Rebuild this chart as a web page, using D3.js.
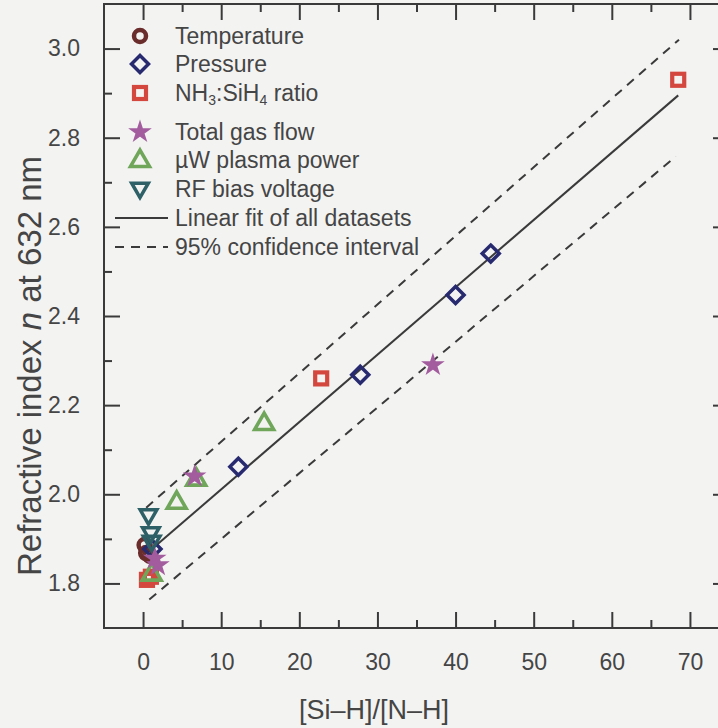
<!DOCTYPE html>
<html>
<head>
<meta charset="utf-8">
<script src="https://cdn.jsdelivr.net/npm/d3@7"></script>
<style>
  html, body { margin: 0; padding: 0; background: #f3f3f2; }
  svg { display: block; font-family: "Liberation Sans", Arial, Helvetica, sans-serif; }
</style>
</head>
<body>
<svg id="chart" width="718" height="728"></svg>
<script>
// Measured datasets: x = [Si–H]/[N–H] bond ratio, y = refractive index at 632 nm
const temperatureX = [0.2, 0.4, 0.9];
const temperatureY = [1.886, 1.868, 1.862];
const pressureX = [1.2, 12.2, 27.8, 40.0, 44.5];
const pressureY = [1.877, 2.062, 2.268, 2.447, 2.540];
const nh3X = [0.5, 1.0, 22.8, 68.5];
const nh3Y = [1.808, 1.815, 2.260, 2.930];
const uwX = [1.1, 4.3, 6.8, 15.5];
const uwY = [1.822, 1.983, 2.035, 2.160];
const flowX = [1.5, 1.9, 6.6, 37.1];
const flowY = [1.856, 1.841, 2.040, 2.290];
const rfX = [0.7, 1.0, 1.1];
const rfY = [1.952, 1.912, 1.893];

// Fit line and 95% band end points
const fitX = [0.8, 68.5];
const fitY = [1.872, 2.895];
const upperX = [0.4, 68.6];
const upperY = [1.970, 3.020];
const lowerX = [0.8, 68.2];
const lowerY = [1.764, 2.758];

// Axis ticks
const xTicks = [0, 10, 20, 30, 40, 50, 60, 70];
const xMinor = [5, 15, 25, 35, 45, 55, 65];
const yTicks = [1.8, 2.0, 2.2, 2.4, 2.6, 2.8, 3.0];
const yMinor = [1.9, 2.1, 2.3, 2.5, 2.7, 2.9];

const svg = d3.select("#chart");
const plotLeft = 104, plotRight = 729, plotTop = 4, plotBottom = 628;
const x = d3.scaleLinear().domain([-5, 75]).range([plotLeft, plotRight]);
const y = d3.scaleLinear().domain([1.7, 3.1]).range([plotBottom, plotTop]);

const ink = "#3a3a3a";
const textCol = "#454545";

// Axes with inward ticks
function styleAxis(g) {
  g.select(".domain").remove();
  g.selectAll(".tick line").attr("stroke", ink).attr("stroke-width", 2);
  g.selectAll(".tick text").attr("fill", textCol).style("font-size", "23px");
}
svg.append("g").attr("transform", `translate(0,${plotBottom})`)
  .call(d3.axisBottom(x).tickValues(xTicks).tickSize(-16).tickPadding(26).tickFormat(d3.format("d")))
  .call(styleAxis);
svg.append("g").attr("transform", `translate(0,${plotBottom})`)
  .call(d3.axisBottom(x).tickValues(xMinor).tickSize(-8).tickFormat(""))
  .call(styleAxis);
svg.append("g").attr("transform", `translate(0,${plotTop})`)
  .call(d3.axisTop(x).tickValues(xTicks).tickSize(-16).tickFormat(""))
  .call(styleAxis);
svg.append("g").attr("transform", `translate(0,${plotTop})`)
  .call(d3.axisTop(x).tickValues(xMinor).tickSize(-8).tickFormat(""))
  .call(styleAxis);
svg.append("g").attr("transform", `translate(${plotLeft},0)`)
  .call(d3.axisLeft(y).tickValues(yTicks).tickSize(-16).tickPadding(24).tickFormat(d3.format(".1f")))
  .call(styleAxis);
svg.append("g").attr("transform", `translate(${plotLeft},0)`)
  .call(d3.axisLeft(y).tickValues(yMinor).tickSize(-8).tickFormat(""))
  .call(styleAxis);
svg.append("g").attr("transform", `translate(${plotRight},0)`)
  .call(d3.axisRight(y).tickValues(yTicks).tickSize(-16).tickFormat(""))
  .call(styleAxis);
svg.append("g").attr("transform", `translate(${plotRight},0)`)
  .call(d3.axisRight(y).tickValues(yMinor).tickSize(-8).tickFormat(""))
  .call(styleAxis);

svg.append("rect")
  .attr("x", plotLeft).attr("y", plotTop).attr("width", plotRight - plotLeft).attr("height", plotBottom - plotTop)
  .attr("fill", "none").attr("stroke", ink).attr("stroke-width", 2);

// Axis titles
svg.append("text")
  .attr("x", 374).attr("y", 710)
  .attr("text-anchor", "middle").attr("dominant-baseline", "central")
  .attr("fill", textCol).style("font-size", "27px")
  .text("[Si–H]/[N–H]");

const yTitle = svg.append("text")
  .attr("transform", "translate(29,366) rotate(-90)")
  .attr("text-anchor", "middle").attr("dominant-baseline", "central")
  .attr("fill", textCol).style("font-size", "33px");
yTitle.append("tspan").text("Refractive index ");
yTitle.append("tspan").style("font-style", "italic").text("n");
yTitle.append("tspan").text(" at 632 nm");

// Fit line and confidence band
const line = d3.line().x(d => x(d[0])).y(d => y(d[1]));
const pairs = (xs, ys) => xs.map((v, i) => [v, ys[i]]);
svg.append("path").datum(pairs(upperX, upperY)).attr("d", line)
  .attr("fill", "none").attr("stroke", ink).attr("stroke-width", 2).attr("stroke-dasharray", "9,7");
svg.append("path").datum(pairs(lowerX, lowerY)).attr("d", line)
  .attr("fill", "none").attr("stroke", ink).attr("stroke-width", 2).attr("stroke-dasharray", "9,7");
svg.append("path").datum(pairs(fitX, fitY)).attr("d", line)
  .attr("fill", "none").attr("stroke", ink).attr("stroke-width", 2);

// Marker shapes
const diamondPath = (r) => `M0,${-r}L${r},0L0,${r}L${-r},0Z`;
const markers = {
  temperature: { color: "#6b2c2c", draw: g => g.append("circle").attr("r", 6).attr("fill", "none").attr("stroke-width", 4.5) },
  pressure: { color: "#282a70", draw: g => g.append("path").attr("d", diamondPath(8.5)).attr("fill", "none").attr("stroke-width", 3.5) },
  nh3: { color: "#d4473e", draw: g => g.append("rect").attr("x", -6).attr("y", -6).attr("width", 12).attr("height", 12).attr("fill", "none").attr("stroke-width", 4.2) },
  flow: { color: "#a35c9e", draw: g => g.append("path").attr("d", d3.symbol(d3.symbolStar, 95)()).attr("fill", "#a35c9e").attr("stroke-width", 2) },
  uw: { color: "#6fa65a", draw: g => g.append("path").attr("d", d3.symbol(d3.symbolTriangle, 155)()).attr("transform", "translate(0,1)").attr("fill", "none").attr("stroke-width", 3.6) },
  rf: { color: "#2d6067", draw: g => g.append("path").attr("d", d3.symbol(d3.symbolTriangle, 120)()).attr("transform", "translate(0,-1) rotate(180)").attr("fill", "none").attr("stroke-width", 3.5) }
};

function plotSeries(key, xs, ys) {
  const m = markers[key];
  svg.append("g").selectAll("g").data(pairs(xs, ys)).join("g")
    .attr("transform", d => `translate(${x(d[0])},${y(d[1])})`)
    .attr("stroke", m.color)
    .each(function () { m.draw(d3.select(this)); });
}
plotSeries("temperature", temperatureX, temperatureY);
plotSeries("pressure", pressureX, pressureY);
plotSeries("nh3", nh3X, nh3Y);
plotSeries("uw", uwX, uwY);
plotSeries("flow", flowX, flowY);
plotSeries("rf", rfX, rfY);

// Legend
const legend = svg.append("g").attr("fill", textCol).style("font-size", "23px");
const legendRows = [
  { key: "temperature", y: 36 },
  { key: "pressure", y: 64 },
  { key: "nh3", y: 93 },
  { key: "flow", y: 132 },
  { key: "uw", y: 160 },
  { key: "rf", y: 189 }
];
legendRows.forEach(r => {
  const g = legend.append("g").attr("transform", `translate(140,${r.y})`).attr("stroke", markers[r.key].color);
  markers[r.key].draw(g);
});
function legendText(yPos) {
  return legend.append("text").attr("x", 175).attr("y", yPos).attr("dominant-baseline", "central");
}
legendText(36).text("Temperature");
legendText(64).text("Pressure");
const nh3Label = legendText(93);
nh3Label.append("tspan").text("NH");
nh3Label.append("tspan").attr("dy", 7).style("font-size", "14px").text("3");
nh3Label.append("tspan").attr("dy", -7).text(":SiH");
nh3Label.append("tspan").attr("dy", 7).style("font-size", "14px").text("4");
nh3Label.append("tspan").attr("dy", -7).text(" ratio");
legendText(132).text("Total gas flow");
legendText(160).text("µW plasma power");
legendText(189).text("RF bias voltage");
legendText(218).text("Linear fit of all datasets");
legendText(247).text("95% confidence interval");
legend.append("line").attr("x1", 115).attr("x2", 168).attr("y1", 218).attr("y2", 218)
  .attr("stroke", ink).attr("stroke-width", 2);
legend.append("line").attr("x1", 115).attr("x2", 168).attr("y1", 247).attr("y2", 247)
  .attr("stroke", ink).attr("stroke-width", 2).attr("stroke-dasharray", "9,7");
</script>
</body>
</html>
